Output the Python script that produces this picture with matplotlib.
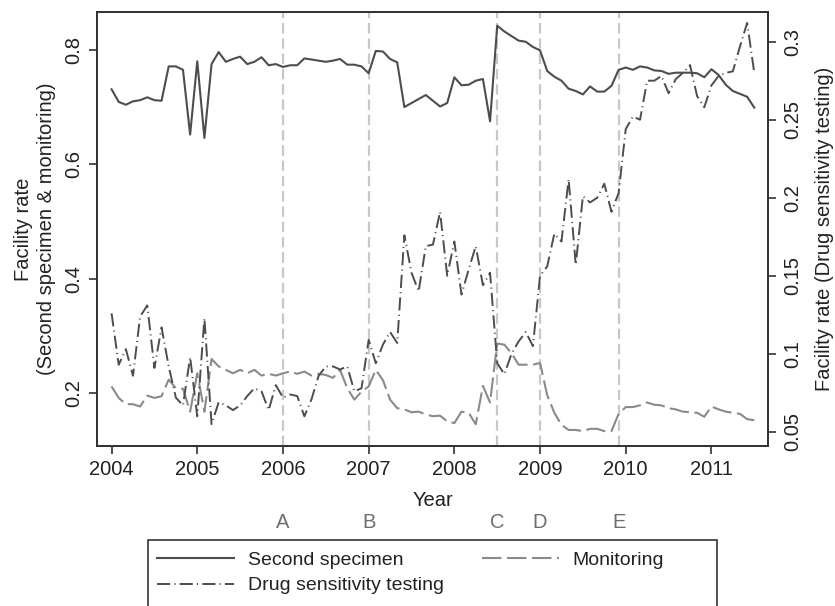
import matplotlib
matplotlib.use("Agg")
import matplotlib.pyplot as plt
import numpy as np
from matplotlib.patches import Rectangle

plt.rcParams['font.family'] = ['Liberation Sans', 'DejaVu Sans']
plt.rcParams['lines.scale_dashes'] = False

# monthly points, Jan 2004 .. Jul 2011
years = 2004 + np.arange(91) / 12

second_specimen = [
    0.731, 0.709, 0.704, 0.710, 0.712, 0.717, 0.712, 0.711, 0.771, 0.771, 0.765, 0.652,
    0.780, 0.646, 0.775, 0.796, 0.779, 0.784, 0.788, 0.775, 0.779, 0.787, 0.773, 0.775,
    0.770, 0.773, 0.773, 0.785, 0.783, 0.781, 0.779, 0.781, 0.784, 0.774, 0.774, 0.771,
    0.759, 0.798, 0.797, 0.784, 0.778, 0.700, 0.707, 0.714, 0.721, 0.711, 0.701, 0.707,
    0.752, 0.738, 0.739, 0.746, 0.749, 0.675, 0.842, 0.832, 0.824, 0.816, 0.814, 0.805,
    0.799, 0.763, 0.753, 0.746, 0.732, 0.728, 0.722, 0.736, 0.727, 0.727, 0.737, 0.765,
    0.769, 0.765, 0.771, 0.769, 0.764, 0.763, 0.758, 0.760, 0.760, 0.760, 0.759, 0.752,
    0.766, 0.756, 0.739, 0.728, 0.723, 0.718, 0.699,
]

monitoring = [
    0.212, 0.192, 0.181, 0.181, 0.177, 0.196, 0.192, 0.195, 0.224, 0.209, 0.208, 0.168,
    0.235, 0.168, 0.260, 0.247, 0.241, 0.235, 0.241, 0.235, 0.241, 0.231, 0.234, 0.231,
    0.235, 0.238, 0.234, 0.238, 0.231, 0.234, 0.232, 0.227, 0.241, 0.209, 0.189, 0.203,
    0.212, 0.241, 0.223, 0.189, 0.174, 0.172, 0.167, 0.168, 0.163, 0.160, 0.161, 0.151,
    0.148, 0.168, 0.166, 0.146, 0.213, 0.184, 0.287, 0.285, 0.270, 0.250, 0.250, 0.250,
    0.253, 0.197, 0.166, 0.145, 0.136, 0.136, 0.134, 0.138, 0.138, 0.134, 0.134, 0.164,
    0.176, 0.176, 0.179, 0.184, 0.180, 0.179, 0.174, 0.172, 0.168, 0.167, 0.166, 0.159,
    0.177, 0.172, 0.168, 0.166, 0.164, 0.155, 0.153,
]

drug_sensitivity = [
    0.126, 0.093, 0.103, 0.086, 0.124, 0.131, 0.091, 0.117, 0.092, 0.072, 0.067, 0.098,
    0.060, 0.123, 0.055, 0.069, 0.067, 0.064, 0.067, 0.073, 0.078, 0.076, 0.064, 0.080,
    0.072, 0.074, 0.073, 0.060, 0.071, 0.086, 0.092, 0.092, 0.090, 0.092, 0.076, 0.078,
    0.109, 0.094, 0.106, 0.114, 0.107, 0.176, 0.152, 0.140, 0.169, 0.170, 0.191, 0.150,
    0.172, 0.138, 0.154, 0.169, 0.144, 0.152, 0.094, 0.087, 0.100, 0.108, 0.114, 0.105,
    0.150, 0.156, 0.177, 0.172, 0.212, 0.157, 0.201, 0.197, 0.200, 0.209, 0.191, 0.203,
    0.244, 0.252, 0.250, 0.275, 0.275, 0.278, 0.267, 0.276, 0.280, 0.285, 0.265, 0.258,
    0.272, 0.278, 0.280, 0.281, 0.297, 0.312, 0.280,
]

event_years = [2006.0, 2007.0, 2008.5, 2009.0, 2009.917]
event_labels = ["A", "B", "C", "D", "E"]
x_ticks = list(range(2004, 2012))
left_ticks = [0.2, 0.4, 0.6, 0.8]
left_tick_labels = ["0.2", "0.4", "0.6", "0.8"]
right_ticks = [0.05, 0.1, 0.15, 0.2, 0.25, 0.3]
right_tick_labels = ["0.05", "0.1", "0.15", "0.2", "0.25", "0.3"]

dark = "#4d4d4d"
mid = "#8a8a8a"
axis_col = "#333333"
fs = 14.5

fig = plt.figure(figsize=(8.35, 6.06), dpi=100)
ax = fig.add_axes([97 / 835, 1 - 446 / 606, 671 / 835, 434 / 606])
ax2 = ax.twinx()

for xv in event_years:
    ax.axvline(xv, color="#c8c8c8", lw=1.6, dashes=(7.5, 3.5), zorder=1)
for xv, lbl in zip(event_years, event_labels):
    ax.text(xv, -0.177, lbl, transform=ax.get_xaxis_transform(), ha="center",
            va="center", color="#6e6e6e", fontsize=fs)

h_ss, = ax.plot(years, second_specimen, color=dark, lw=1.5, zorder=3,
                label="Second specimen")
h_mon, = ax.plot(years, monitoring, color=mid, lw=1.5, dashes=(14, 4), zorder=3,
                 label="Monitoring")
h_dst, = ax2.plot(years, drug_sensitivity, color=dark, lw=1.4,
                  dashes=(9.5, 3, 0.8, 3), zorder=3, label="Drug sensitivity testing")

ax.set_xlim(2003.83, 2011.66)
ax.set_ylim(0.108, 0.866)
ax2.set_ylim(0.041, 0.319)

ax.set_xticks(x_ticks)
ax.set_xticklabels([str(v) for v in x_ticks])
ax.set_yticks(left_ticks)
ax.set_yticklabels(left_tick_labels)
ax2.set_yticks(right_ticks)
ax2.set_yticklabels(right_tick_labels)

for a in (ax, ax2):
    for s in a.spines.values():
        s.set_color(axis_col)
        s.set_linewidth(1.3)
    a.tick_params(colors=axis_col, labelcolor="#222222", labelsize=fs,
                  length=6, width=1.2, direction="out")
ax.tick_params(axis="x", pad=4)
ax.tick_params(axis="y", labelrotation=90, pad=4)
ax2.tick_params(axis="y", labelrotation=90, pad=5)
for t in ax.get_yticklabels() + ax2.get_yticklabels():
    t.set_va("center")

fig.text(432.5 / 835, 1 - 500 / 606, "Year", ha="center", va="center",
         fontsize=fs, color="#222222")
fig.text(35 / 835, 1 - 229 / 606, "Facility rate\n(Second specimen & monitoring)",
         rotation=90, ha="center", va="center", multialignment="center",
         fontsize=fs, color="#222222", linespacing=1.25)
fig.text(825 / 835, 1 - 229 / 606, "Facility rate (Drug sensitivity testing)",
         rotation=90, ha="center", va="center", fontsize=fs, color="#222222")

fig.legend(handles=[h_ss, h_dst, h_mon], ncol=2, loc="upper left",
           bbox_to_anchor=(157 / 835, 1 - 551 / 606), frameon=False,
           borderpad=0, borderaxespad=0, handlelength=3.95, handletextpad=0.72,
           columnspacing=1.95, labelspacing=0.42, fontsize=14,
           labelcolor="#222222")
fig.add_artist(Rectangle((148 / 835, -0.05), (717 - 148) / 835, 0.05 + 1 - 540 / 606,
                         transform=fig.transFigure, fill=False,
                         edgecolor=axis_col, lw=1.2))

fig.savefig("out.png", dpi=100)
